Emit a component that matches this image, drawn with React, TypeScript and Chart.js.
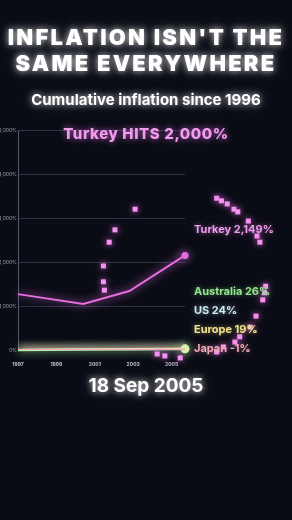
import React, { useEffect, useRef } from "react";
import { Chart, registerables } from "chart.js";

Chart.register(...registerables);

// ---- data ----
const years = [1997, 2000.4, 2002.8, 2005.7];
const turkey = [1270, 1045, 1340, 2149];
const australia = [2, 9, 17, 26];
const us = [2, 9, 16, 24];
const europe = [2, 6, 12, 19];
const japan = [2, 0, -1, -1];
const xTicks = [1997, 1999, 2001, 2003, 2005];
const yTicks = [0, 1000, 2000, 3000, 4000, 5000];
const particleX = [2003.1, 2002.05, 2001.75, 2001.45, 2001.45, 2001.5, 2007.35, 2007.6, 2007.9, 2008.25, 2008.45, 2009.0, 2009.45, 2009.6, 2009.9, 2009.85, 2009.75, 2009.4, 2009.1, 2008.55, 2008.3, 2007.7, 2007.35, 2004.25, 2004.65, 2005.45];
const particleY = [3200, 2730, 2450, 1910, 1550, 1360, 3450, 3390, 3320, 3200, 3140, 2930, 2590, 2450, 1450, 1300, 1140, 770, 520, 300, 180, 70, -45, -90, -135, -180];
const labels = [
  { text: "Turkey 2,149%", color: "#f09af0", top: 229 },
  { text: "Australia 26%", color: "#93e58d", top: 291 },
  { text: "US 24%", color: "#cbe9f6", top: 310 },
  { text: "Europe 19%", color: "#f5e38c", top: 329 },
  { text: "Japan -1%", color: "#f2a7b8", top: 348 },
];

const pts = (ys: number[]) => years.map((x, i) => ({ x, y: ys[i] }));
const lastOnly = (r: number) => (ctx: any) => (ctx.dataIndex === years.length - 1 ? r : 0);

const glowPlugin = {
  id: "glow",
  beforeDatasetDraw(chart: any, args: any) {
    const ds = chart.data.datasets[args.index];
    const ctx = chart.ctx;
    ctx.save();
    ctx.shadowColor = ds.borderColor;
    ctx.shadowBlur = 9;
  },
  afterDatasetDraw(chart: any) {
    chart.ctx.restore();
  },
};

const particlePlugin = {
  id: "particles",
  afterDatasetsDraw(chart: any) {
    const { ctx, scales } = chart;
    ctx.save();
    ctx.fillStyle = "#f592f2";
    ctx.shadowColor = "rgba(240,110,240,0.9)";
    ctx.shadowBlur = 6;
    const s = 5;
    particleX.forEach((xv, i) => {
      const px = scales.x.getPixelForValue(xv);
      const py = scales.y.getPixelForValue(particleY[i]);
      ctx.fillRect(px - s / 2, py - s / 2, s, s);
    });
    ctx.restore();
  },
};

export default function App() {
  const ref = useRef<HTMLCanvasElement>(null);
  useEffect(() => {
    const chart = new Chart(ref.current!, {
      type: "line",
      data: {
        datasets: [
          { data: pts(japan), borderColor: "#f2a7b8", borderWidth: 2, pointRadius: 0, tension: 0 },
          { data: pts(europe), borderColor: "#f5e38c", borderWidth: 2, pointRadius: 0, tension: 0 },
          { data: pts(us), borderColor: "#cbe9f6", borderWidth: 2, pointRadius: 0, tension: 0 },
          {
            data: pts(australia),
            borderColor: "#b4f0a8",
            borderWidth: 2.5,
            pointRadius: lastOnly(4.5),
            pointBackgroundColor: "#d8f5a8",
            pointBorderWidth: 0,
            tension: 0,
            clip: false,
          } as any,
          {
            data: pts(turkey),
            borderColor: "#e46ee0",
            borderWidth: 2,
            pointRadius: lastOnly(3.5),
            pointBackgroundColor: "#e46ee0",
            pointBorderWidth: 0,
            tension: 0,
            clip: false,
          } as any,
        ],
      },
      options: {
        animation: false,
        responsive: false,
        layout: { padding: { left: 0, top: 130, right: 107, bottom: 150 } },
        plugins: { legend: { display: false }, tooltip: { enabled: false } },
        scales: {
          x: {
            type: "linear",
            min: 1997,
            max: 2005.7,
            afterFit: (s: any) => { s.height = 20; },
            afterBuildTicks: (s: any) => { s.ticks = xTicks.map((v) => ({ value: v })); },
            grid: { display: false },
            border: { display: false },
            ticks: {
              callback: (v: any) => String(v),
              color: "#c0c4cc",
              font: { family: "Inter", size: 5, weight: "bold" },
              padding: 3,
              maxRotation: 0,
            },
          },
          y: {
            min: 0,
            max: 5000,
            afterFit: (s: any) => { s.width = 18; },
            afterBuildTicks: (s: any) => { s.ticks = yTicks.map((v) => ({ value: v })); },
            grid: { color: "#2d3242", lineWidth: 1, drawTicks: false },
            border: { color: "#555b6b", width: 1 },
            ticks: {
              callback: (v: any) => Number(v).toLocaleString("en-US") + "%",
              color: "#9ea3ae",
              font: { family: "Inter", size: 5 },
              padding: 1,
            },
          },
        },
      } as any,
      plugins: [glowPlugin, particlePlugin],
    });
    return () => chart.destroy();
  }, []);

  const white = "0 0 6px rgba(255,255,255,0.75), 0 0 14px rgba(255,255,255,0.35)";
  return (
    <div style={{ position: "fixed", left: 0, top: 0, width: 292, height: 520, background: "#0a0c15", overflow: "hidden", fontFamily: "Inter, sans-serif" }}>
      <canvas ref={ref} width={292} height={520} style={{ position: "absolute", left: 0, top: 0 }} />
      <div style={{ position: "absolute", left: 0, width: 292, top: 24, textAlign: "center", color: "#fff", fontWeight: 900, fontSize: 22, letterSpacing: 2.2, lineHeight: "26px", textShadow: white, whiteSpace: "nowrap" }}>
        INFLATION ISN'T THE<br />SAME EVERYWHERE
      </div>
      <div style={{ position: "absolute", left: 0, width: 292, top: 90, textAlign: "center", color: "#fff", fontWeight: 700, fontSize: 15, lineHeight: "20px", textShadow: white }}>
        Cumulative inflation since 1996
      </div>
      <div style={{ position: "absolute", left: 0, width: 292, top: 124, textAlign: "center", color: "#f29cf0", fontWeight: 800, fontSize: 15, letterSpacing: 0.6, lineHeight: "20px", textShadow: "0 0 6px rgba(240,120,240,0.8)" }}>
        Turkey HITS 2,000%
      </div>
      {labels.map((l) => (
        <div key={l.text} style={{ position: "absolute", left: 194, top: l.top - 8, color: l.color, fontWeight: 700, fontSize: 11, lineHeight: "16px", whiteSpace: "nowrap", textShadow: `0 0 5px ${l.color}88` }}>
          {l.text}
        </div>
      ))}
      <div style={{ position: "absolute", left: 0, width: 292, top: 374, textAlign: "center", color: "#fff", fontWeight: 700, fontSize: 19, lineHeight: "24px", textShadow: white }}>
        18 Sep 2005
      </div>
    </div>
  );
}
